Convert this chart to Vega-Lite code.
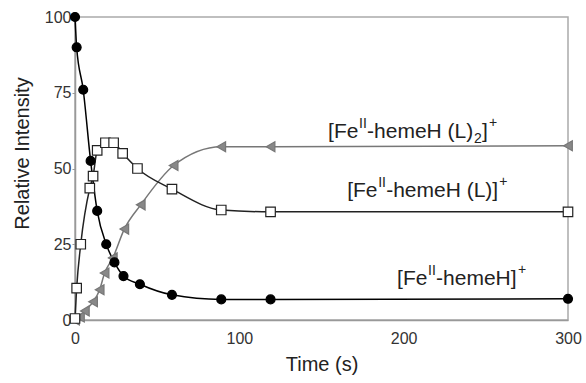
{
  "$schema": "https://vega.github.io/schema/vega-lite/v6.json",
  "width": 493,
  "height": 303,
  "autosize": {"type": "none"},
  "padding": {"left": 75, "top": 17, "right": 18, "bottom": 63},
  "background": "white",
  "config": {
    "view": {"stroke": "#aaa", "strokeWidth": 1.5},
    "font": "Liberation Sans",
    "axis": {
      "grid": false,
      "domainColor": "#999",
      "domainWidth": 1.5,
      "tickColor": "#999",
      "labelFont": "Liberation Sans",
      "labelFontSize": 16,
      "labelColor": "#333",
      "titleFont": "Liberation Sans",
      "titleFontSize": 20,
      "titleFontWeight": "normal",
      "titleColor": "#222"
    }
  },
  "datasets": {
    "series": [
      {"series": "L2", "t": 0, "v": 0},
      {"series": "L2", "t": 3, "v": 1},
      {"series": "L2", "t": 6, "v": 3},
      {"series": "L2", "t": 11, "v": 6},
      {"series": "L2", "t": 15, "v": 10},
      {"series": "L2", "t": 18, "v": 15.5},
      {"series": "L2", "t": 23, "v": 20.5},
      {"series": "L2", "t": 30, "v": 30},
      {"series": "L2", "t": 40, "v": 38},
      {"series": "L2", "t": 60, "v": 51},
      {"series": "L2", "t": 89, "v": 57.2},
      {"series": "L2", "t": 119, "v": 57.2},
      {"series": "L2", "t": 300, "v": 57.5},
      {"series": "heme", "t": 0, "v": 100},
      {"series": "heme", "t": 1, "v": 90},
      {"series": "heme", "t": 5, "v": 76},
      {"series": "heme", "t": 9.5, "v": 52.5},
      {"series": "heme", "t": 13.5, "v": 36},
      {"series": "heme", "t": 19, "v": 25},
      {"series": "heme", "t": 24, "v": 19},
      {"series": "heme", "t": 29.5, "v": 14.5},
      {"series": "heme", "t": 39.5, "v": 11.8},
      {"series": "heme", "t": 59, "v": 8.3},
      {"series": "heme", "t": 89, "v": 6.8},
      {"series": "heme", "t": 119, "v": 6.8},
      {"series": "heme", "t": 300, "v": 7},
      {"series": "L", "t": 0, "v": 0.5},
      {"series": "L", "t": 1, "v": 10.5},
      {"series": "L", "t": 3.5, "v": 25},
      {"series": "L", "t": 9, "v": 43.5},
      {"series": "L", "t": 11, "v": 47.5},
      {"series": "L", "t": 13.5, "v": 56},
      {"series": "L", "t": 18.5, "v": 58.5},
      {"series": "L", "t": 23.5, "v": 58.5},
      {"series": "L", "t": 29, "v": 55},
      {"series": "L", "t": 38, "v": 50},
      {"series": "L", "t": 59, "v": 43.2},
      {"series": "L", "t": 89, "v": 36.3},
      {"series": "L", "t": 119, "v": 35.7},
      {"series": "L", "t": 300, "v": 35.7}
    ],
    "labels": [
      {"label": "L2", "t": 154, "v": 60.1, "mid": "-hemeH (L)"},
      {"label": "L", "t": 165.6, "v": 40.6, "mid": "-hemeH (L)]"},
      {"label": "heme", "t": 196, "v": 11.6, "mid": "-hemeH]"}
    ]
  },
  "encoding": {
    "x": {
      "field": "t",
      "type": "quantitative",
      "scale": {"domain": [0, 300], "nice": false},
      "axis": {"values": [0, 100, 200, 300], "title": "Time (s)", "tickSize": 0, "labelPadding": 10, "titlePadding": 8, "labelFlush": false}
    },
    "y": {
      "field": "v",
      "type": "quantitative",
      "scale": {"domain": [0, 100], "nice": false},
      "axis": {"values": [0, 25, 50, 75, 100], "title": "Relative Intensity", "tickSize": 3, "labelPadding": 1, "titlePadding": 12, "titleY": 136}
    }
  },
  "layer": [
    {
      "data": {"name": "series"},
      "mark": {"type": "line", "interpolate": "monotone", "strokeWidth": 1.5},
      "encoding": {
        "stroke": {"field": "series", "type": "nominal", "scale": {"domain": ["heme", "L", "L2"], "range": ["#000000", "#222222", "#777777"]}, "legend": null},
        "detail": {"field": "series"}
      }
    },
    {
      "data": {"name": "series"},
      "mark": {"type": "point", "filled": true, "opacity": 1, "fillOpacity": 1, "strokeWidth": 1.2},
      "encoding": {
        "shape": {"field": "series", "type": "nominal", "scale": {"domain": ["heme", "L", "L2"], "range": ["circle", "square", "triangle-left"]}, "legend": null},
        "fill": {"field": "series", "type": "nominal", "scale": {"domain": ["heme", "L", "L2"], "range": ["#000000", "#ffffff", "#888888"]}, "legend": null},
        "stroke": {"field": "series", "type": "nominal", "legend": null},
        "size": {"field": "series", "type": "nominal", "scale": {"domain": ["heme", "L", "L2"], "range": [80, 100, 55]}, "legend": null}
      }
    },
    {
      "data": {"name": "labels"},
      "mark": {"type": "text", "align": "left", "baseline": "alphabetic", "fontSize": 21, "font": "Liberation Sans", "color": "#222", "dx": 0},
      "encoding": {"text": {"value": "[Fe"}}
    },
    {
      "data": {"name": "labels"},
      "mark": {"type": "text", "align": "left", "baseline": "alphabetic", "fontSize": 14, "font": "Liberation Sans", "color": "#222", "dx": 31, "dy": -10},
      "encoding": {"text": {"value": "II"}}
    },
    {
      "data": {"name": "labels"},
      "mark": {"type": "text", "align": "left", "baseline": "alphabetic", "fontSize": 21, "font": "Liberation Sans", "color": "#222", "dx": 39},
      "encoding": {"text": {"field": "mid"}}
    },
    {
      "data": {"name": "labels"},
      "transform": [{"filter": "datum.label == 'L2'"}],
      "mark": {"type": "text", "align": "left", "baseline": "alphabetic", "fontSize": 14, "font": "Liberation Sans", "color": "#222", "dx": 146, "dy": 5},
      "encoding": {"text": {"value": "2"}}
    },
    {
      "data": {"name": "labels"},
      "transform": [{"filter": "datum.label == 'L2'"}],
      "mark": {"type": "text", "align": "left", "baseline": "alphabetic", "fontSize": 21, "font": "Liberation Sans", "color": "#222", "dx": 154},
      "encoding": {"text": {"value": "]"}}
    },
    {
      "data": {"name": "labels"},
      "transform": [{"filter": "datum.label == 'L2'"}],
      "mark": {"type": "text", "align": "left", "baseline": "alphabetic", "fontSize": 14, "font": "Liberation Sans", "color": "#222", "dx": 161, "dy": -11},
      "encoding": {"text": {"value": "+"}}
    },
    {
      "data": {"name": "labels"},
      "transform": [{"filter": "datum.label == 'L'"}],
      "mark": {"type": "text", "align": "left", "baseline": "alphabetic", "fontSize": 14, "font": "Liberation Sans", "color": "#222", "dx": 152, "dy": -11},
      "encoding": {"text": {"value": "+"}}
    },
    {
      "data": {"name": "labels"},
      "transform": [{"filter": "datum.label == 'heme'"}],
      "mark": {"type": "text", "align": "left", "baseline": "alphabetic", "fontSize": 14, "font": "Liberation Sans", "color": "#222", "dx": 121, "dy": -11},
      "encoding": {"text": {"value": "+"}}
    }
  ]
}
